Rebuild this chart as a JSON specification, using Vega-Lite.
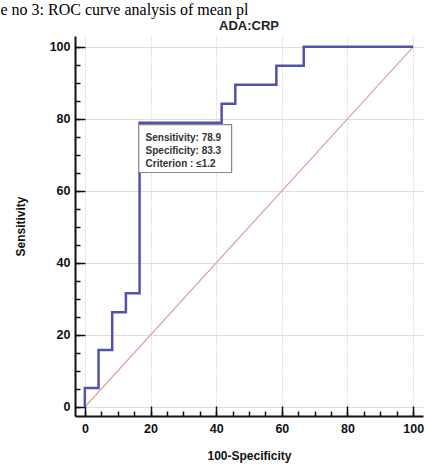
{
  "$schema": "https://vega.github.io/schema/vega-lite/v6.json",
  "width": 348,
  "height": 380,
  "autosize": {"type": "none"},
  "padding": {"left": 75, "top": 36, "right": 3, "bottom": 48},
  "background": "white",
  "config": {
    "view": {"stroke": null},
    "axis": {
      "domainColor": "#111111",
      "domainWidth": 2,
      "tickColor": "#111111",
      "tickWidth": 1.5,
      "labelFont": "Liberation Sans",
      "labelFontWeight": "bold",
      "labelFontSize": 12.5,
      "labelColor": "#111111",
      "titleFont": "Liberation Sans",
      "titleFontWeight": "bold",
      "titleFontSize": 12,
      "titleColor": "#111111"
    }
  },
  "datasets": {
    "roc": [
      {"fpr": 0, "sens": 0, "i": 0},
      {"fpr": 0, "sens": 5.26, "i": 1},
      {"fpr": 4.17, "sens": 15.79, "i": 2},
      {"fpr": 8.33, "sens": 26.32, "i": 3},
      {"fpr": 12.5, "sens": 31.58, "i": 4},
      {"fpr": 16.67, "sens": 78.95, "i": 5},
      {"fpr": 41.67, "sens": 84.21, "i": 6},
      {"fpr": 45.83, "sens": 89.47, "i": 7},
      {"fpr": 58.33, "sens": 94.74, "i": 8},
      {"fpr": 66.67, "sens": 100, "i": 9},
      {"fpr": 100, "sens": 100, "i": 10}
    ],
    "diag": [
      {"fpr": 0, "sens": 0},
      {"fpr": 100, "sens": 100}
    ],
    "box": [
      {"x1": 16.4, "x2": 44.7, "y1": 78.4, "y2": 65.1}
    ],
    "lines": [
      {"label": "Sensitivity: 78.9", "lx": 18.5, "ly": 74.7},
      {"label": "Specificity: 83.3", "lx": 18.5, "ly": 71.0},
      {"label": "Criterion : ≤1.2", "lx": 18.5, "ly": 67.4}
    ],
    "texts": [
      {"text": "e no 3:  ROC curve analysis of mean pl", "cx": -25.7, "cy": 108.85, "kind": "caption"},
      {"text": "ADA:CRP", "cx": 50, "cy": 104.6, "kind": "title"}
    ]
  },
  "layer": [
    {
      "data": {"name": "diag"},
      "mark": {"type": "line", "color": "#dba3a3", "strokeWidth": 1.2},
      "encoding": {
        "x": {"field": "fpr", "type": "quantitative", "scale": {"domain": [-3, 103], "nice": false, "zero": false},
          "axis": {"orient": "bottom", "values": [0, 20, 40, 60, 80, 100], "title": "100-Specificity", "grid": true, "gridColor": "#dedede", "gridDash": [2, 1], "tickSize": -10, "labelPadding": 16, "titlePadding": 16}},
        "y": {"field": "sens", "type": "quantitative", "scale": {"domain": [-2.5, 103], "nice": false, "zero": false},
          "axis": {"orient": "left", "values": [0, 20, 40, 60, 80, 100], "title": "Sensitivity", "grid": true, "gridColor": "#dedede", "tickSize": -10, "labelPadding": 15, "titlePadding": 22}}
      }
    },
    {
      "data": {"name": "roc"},
      "mark": {"type": "line", "interpolate": "step-after", "color": "#5252ae", "strokeWidth": 2.5},
      "encoding": {
        "x": {"field": "fpr", "type": "quantitative",
          "axis": {"orient": "bottom", "values": [0,5,10,15,20,25,30,35,40,45,50,55,60,65,70,75,80,85,90,95,100], "labels": false, "title": null, "grid": false, "domain": false, "tickSize": -5}},
        "y": {"field": "sens", "type": "quantitative",
          "axis": {"orient": "left", "values": [0,5,10,15,20,25,30,35,40,45,50,55,60,65,70,75,80,85,90,95,100], "labels": false, "title": null, "grid": false, "domain": false, "tickSize": -5}},
        "order": {"field": "i"}
      }
    },
    {
      "data": {"name": "box"},
      "mark": {"type": "rect", "fill": "white", "stroke": "#8a8a8a", "strokeWidth": 1.2},
      "encoding": {
        "x": {"field": "x1", "type": "quantitative", "axis": null},
        "x2": {"field": "x2"},
        "y": {"field": "y1", "type": "quantitative", "axis": null},
        "y2": {"field": "y2"}
      }
    },
    {
      "data": {"name": "lines"},
      "mark": {"type": "text", "align": "left", "baseline": "middle", "font": "Liberation Sans", "fontSize": 10, "fontWeight": "bold", "color": "#333333"},
      "encoding": {
        "x": {"field": "lx", "type": "quantitative", "axis": null},
        "y": {"field": "ly", "type": "quantitative", "axis": null},
        "text": {"field": "label"}
      }
    },
    {
      "data": {"name": "texts"},
      "transform": [{"filter": "datum.kind === 'caption'"}],
      "mark": {"type": "text", "align": "left", "baseline": "alphabetic", "font": "Liberation Serif", "fontSize": 16, "color": "#000000"},
      "encoding": {
        "x": {"field": "cx", "type": "quantitative", "axis": null},
        "y": {"field": "cy", "type": "quantitative", "axis": null},
        "text": {"field": "text"}
      }
    },
    {
      "data": {"name": "texts"},
      "transform": [{"filter": "datum.kind === 'title'"}],
      "mark": {"type": "text", "align": "center", "baseline": "alphabetic", "font": "Liberation Sans", "fontSize": 13, "fontWeight": "bold", "color": "#222222"},
      "encoding": {
        "x": {"field": "cx", "type": "quantitative", "axis": null},
        "y": {"field": "cy", "type": "quantitative", "axis": null},
        "text": {"field": "text"}
      }
    }
  ],
  "resolve": {"axis": {"x": "independent", "y": "independent"}}
}
